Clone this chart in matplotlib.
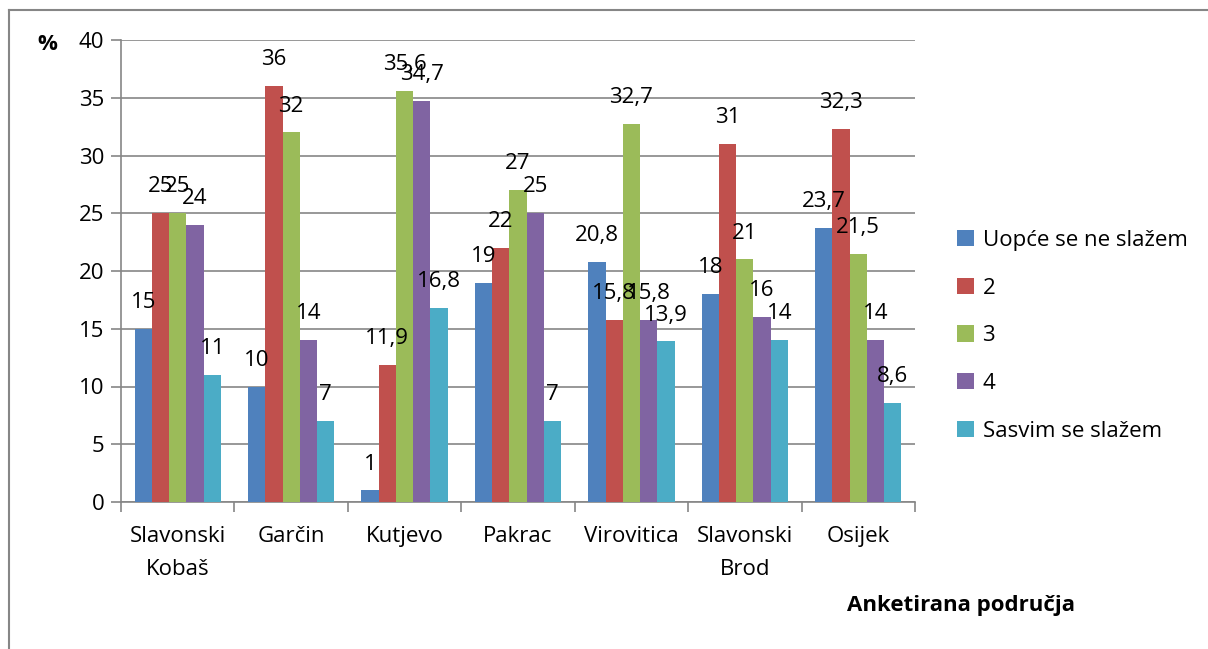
import matplotlib
matplotlib.use("Agg")
import matplotlib.pyplot as plt
from matplotlib.lines import Line2D
import numpy as np

categories = ["Slavonski\nKobaš", "Garčin", "Kutjevo", "Pakrac", "Virovitica", "Slavonski\nBrod", "Osijek"]
series_names = ["Uopće se ne slažem", "2", "3", "4", "Sasvim se slažem"]
s1 = [15, 10, 1, 19, 20.8, 18, 23.7]
s2 = [25, 36, 11.9, 22, 15.8, 31, 32.3]
s3 = [25, 32, 35.6, 27, 32.7, 21, 21.5]
s4 = [24, 14, 34.7, 25, 15.8, 16, 14]
s5 = [11, 7, 16.8, 7, 13.9, 14, 8.6]
series = [s1, s2, s3, s4, s5]
colors = ["#4F81BD", "#C0504D", "#9BBB59", "#8064A2", "#4BACC6"]

plt.rcParams['font.family'] = ['Open Sans', 'DejaVu Sans']
FS = 16

fig = plt.figure(figsize=(12.08, 6.49), dpi=100)
ax = fig.add_axes([121/1208, 1-502/649, (915-121)/1208, (502-40)/649])

x = np.arange(len(categories))
w = 0.152
for i, (vals, c, name) in enumerate(zip(series, colors, series_names)):
    pos = x + (i - 2) * w
    ax.bar(pos, vals, w, color=c, label=name, zorder=3, edgecolor='none')
    for p, v in zip(pos, vals):
        lab = (f"{v:g}").replace('.', ',')
        ax.annotate(lab, (p, v), xytext=(0, 19), textcoords='offset points',
                    ha='center', va='center', fontsize=FS, color='black', zorder=5)

ax.set_xlim(-0.5, len(categories) - 0.5)
ax.set_ylim(0, 40)
ax.set_yticks(range(0, 41, 5))
ax.set_xticks(x)
ax.set_xticklabels(categories, fontsize=FS, linespacing=1.75)
ax.set_xticks(np.arange(-0.5, len(categories), 1), minor=True)
ax.tick_params(axis='x', which='major', length=0, pad=17)
ax.tick_params(axis='x', which='minor', length=7, color='#868686', width=1.2)
ax.tick_params(axis='y', length=7, color='#868686', width=1.2, labelsize=FS, pad=5)
ax.yaxis.grid(True, color='#868686', linewidth=1.2, zorder=0)
ax.set_axisbelow(True)
for s in ['top', 'right']:
    ax.spines[s].set_visible(False)
for s in ['left', 'bottom']:
    ax.spines[s].set_color('#868686')
    ax.spines[s].set_linewidth(1.2)

fig.text(47/1208, 1-45/649, "%", fontsize=FS, fontweight='bold', ha='center', va='center')
fig.text(961/1208, 1-605/649, "Anketirana područja", fontsize=FS, fontweight='bold', ha='center', va='center')

ax.legend(loc='upper left', bbox_to_anchor=(937/1208, 1-210/649), bbox_transform=fig.transFigure,
          frameon=False, fontsize=FS, handlelength=0.75, handleheight=0.75,
          handletextpad=0.4, labelspacing=1.2)

# outer frame
fig.add_artist(Line2D([9/1208, 1.0], [1-10/649, 1-10/649], transform=fig.transFigure, color='#868686', linewidth=1.5))
fig.add_artist(Line2D([9/1208, 9/1208], [1-10/649, 0.0], transform=fig.transFigure, color='#868686', linewidth=1.5))

fig.savefig("out.png", dpi=100)
